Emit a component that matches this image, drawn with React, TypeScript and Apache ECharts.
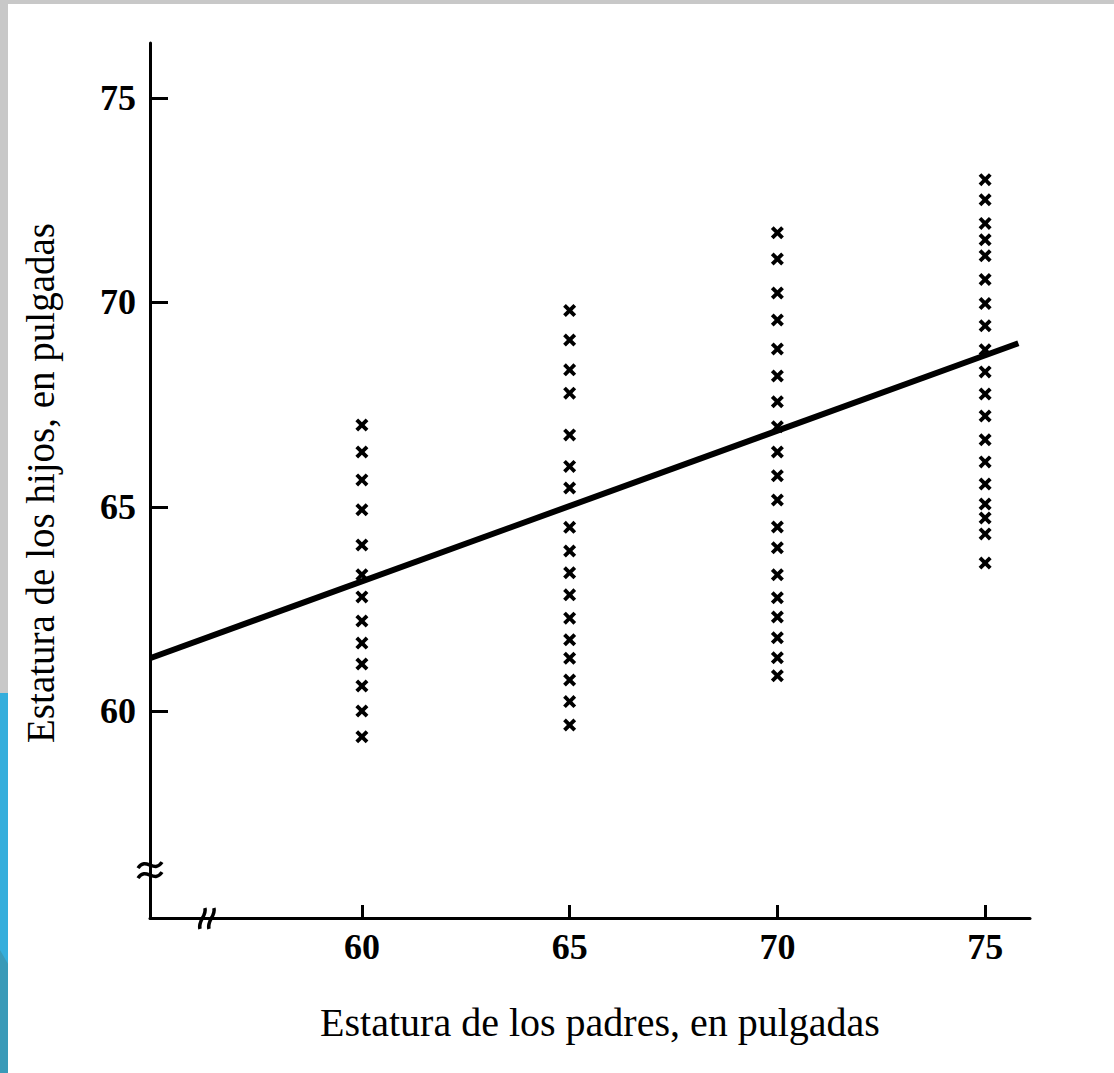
import React, { useEffect, useRef } from "react";
import * as echarts from "echarts";

// Father height groups (inches) and the sons' heights recorded in each group
const fatherHeights = [60, 65, 70, 75];
const sonsAt60 = [67.0, 66.34, 65.66, 64.93, 64.07, 63.34, 62.8, 62.21, 61.67, 61.16, 60.62, 60.01, 59.38];
const sonsAt65 = [69.8, 69.08, 68.35, 67.78, 66.76, 65.99, 65.46, 64.5, 63.92, 63.39, 62.85, 62.28, 61.75, 61.3, 60.77, 60.24, 59.67];
const sonsAt70 = [71.7, 71.06, 70.23, 69.57, 68.86, 68.2, 67.57, 66.96, 66.34, 65.76, 65.17, 64.51, 64.0, 63.34, 62.78, 62.31, 61.8, 61.31, 60.87];
const sonsAt75 = [73.0, 72.51, 71.93, 71.53, 71.14, 70.56, 69.97, 69.43, 68.84, 68.3, 67.76, 67.22, 66.64, 66.1, 65.56, 65.07, 64.73, 64.34, 63.63];
const sonGroups = [sonsAt60, sonsAt65, sonsAt70, sonsAt75];

// Fitted regression line, endpoints in (father, son) inches
const lineStart = [54.9, 61.3];
const lineEnd = [75.8, 69.0];

// Axis tick labels
const xTicks = [60, 65, 70, 75];
const yTicks = [60, 65, 70, 75];

// Axis extents and the positions of the axis-break marks (data units)
const xRange = [54.9, 76.08];
const yRange = [54.95, 76.34];
const xBreakAt = 56.27;
const yBreakAt = 56.12;

const xTitle = "Estatura de los padres, en pulgadas";
const yTitle = "Estatura de los hijos, en pulgadas";

const SERIF = "'Liberation Serif', 'DejaVu Serif', serif";
const CROSS =
  "path://M0,2.5 L2.5,0 L6,3.5 L9.5,0 L12,2.5 L8.5,6 L12,9.5 L9.5,12 L6,8.5 L2.5,12 L0,9.5 L3.5,6 Z";

export default function App() {
  const ref = useRef<HTMLDivElement>(null);

  useEffect(() => {
    document.body.style.margin = "0";
    const el = ref.current;
    if (!el) return;
    const chart = echarts.init(el, null, { renderer: "svg" });

    const points: number[][] = [];
    fatherHeights.forEach((f, i) => {
      sonGroups[i].forEach((s) => points.push([f, s]));
    });

    chart.setOption({
      animation: false,
      backgroundColor: "#ffffff",
      grid: { left: 150, right: 84, top: 43, bottom: 155, containLabel: false },
      xAxis: {
        type: "value",
        min: xRange[0],
        max: xRange[1],
        axisLine: { show: true, onZero: false, lineStyle: { color: "#000", width: 3 } },
        axisTick: {
          show: true,
          inside: true,
          length: 13,
          customValues: xTicks,
          lineStyle: { color: "#000", width: 3 },
        },
        axisLabel: {
          customValues: xTicks,
          color: "#000",
          fontFamily: SERIF,
          fontWeight: "bold",
          fontSize: 36,
          margin: 11,
        },
        splitLine: { show: false },
      },
      yAxis: {
        type: "value",
        min: yRange[0],
        max: yRange[1],
        axisLine: { show: true, onZero: false, lineStyle: { color: "#000", width: 3 } },
        axisTick: {
          show: true,
          inside: true,
          length: 18,
          customValues: yTicks,
          lineStyle: { color: "#000", width: 3 },
        },
        axisLabel: {
          customValues: yTicks,
          color: "#000",
          fontFamily: SERIF,
          fontWeight: "bold",
          fontSize: 36,
          margin: 14,
        },
        splitLine: { show: false },
      },
      series: [
        {
          type: "scatter",
          data: points,
          symbol: CROSS,
          symbolSize: [13, 13],
          itemStyle: { color: "#000", opacity: 1 },
          z: 2,
        },
        {
          type: "line",
          data: [lineStart, lineEnd],
          symbol: "none",
          lineStyle: { color: "#000", width: 6 },
          z: 3,
        },
      ],
    });

    const yb = chart.convertToPixel({ gridIndex: 0 }, [xRange[0], yBreakAt]) as number[];
    const xb = chart.convertToPixel({ gridIndex: 0 }, [xBreakAt, yRange[0]]) as number[];
    const mid = chart.convertToPixel({ gridIndex: 0 }, [
      (xRange[0] + xRange[1]) / 2,
      (yRange[0] + yRange[1]) / 2,
    ]) as number[];

    const tilde = (cx: number, cy: number) => ({
      type: "bezierCurve",
      shape: {
        x1: cx - 12, y1: cy + 3,
        cpx1: cx - 4, cpy1: cy - 9,
        cpx2: cx + 4, cpy2: cy + 9,
        x2: cx + 12, y2: cy - 3,
      },
      style: { stroke: "#000", lineWidth: 3.5, fill: null },
      z: 10,
    });
    const slash = (cx: number, cy: number) => ({
      type: "bezierCurve",
      shape: {
        x1: cx - 3, y1: cy + 11,
        cpx1: cx - 5, cpy1: cy + 2,
        cpx2: cx + 4, cpy2: cy - 2,
        x2: cx + 2, y2: cy - 10,
      },
      style: { stroke: "#000", lineWidth: 3.5, fill: null },
      z: 10,
    });

    chart.setOption({
      graphic: [
        // slide frame around the figure
        { type: "rect", shape: { x: 0, y: 0, width: 1114, height: 4 }, style: { fill: "#c8c8c8" }, z: 0 },
        { type: "rect", shape: { x: 0, y: 0, width: 8, height: 693 }, style: { fill: "#c8c8c8" }, z: 0 },
        { type: "rect", shape: { x: 0, y: 693, width: 8, height: 380 }, style: { fill: "#35aedc" }, z: 0 },
        {
          type: "polygon",
          shape: { points: [[0, 950], [8, 964], [8, 1073], [0, 1073]] },
          style: { fill: "#3a9ab8" },
          z: 1,
        },
        // axis breaks
        tilde(yb[0], yb[1] - 5),
        tilde(yb[0], yb[1] + 5),
        slash(xb[0] - 4, xb[1]),
        slash(xb[0] + 5, xb[1]),
        // axis titles
        {
          type: "text",
          x: mid[0] + 10,
          y: 1022,
          style: {
            text: xTitle,
            font: `40px ${SERIF}`,
            fill: "#000",
            align: "center",
            verticalAlign: "middle",
          },
        },
        {
          type: "text",
          x: 40,
          y: 483,
          rotation: Math.PI / 2,
          style: {
            text: yTitle,
            font: `39px ${SERIF}`,
            fill: "#000",
            align: "center",
            verticalAlign: "middle",
          },
        },
      ],
    });

    return () => chart.dispose();
  }, []);

  return <div ref={ref} style={{ width: 1114, height: 1073, background: "#fff" }} />;
}
